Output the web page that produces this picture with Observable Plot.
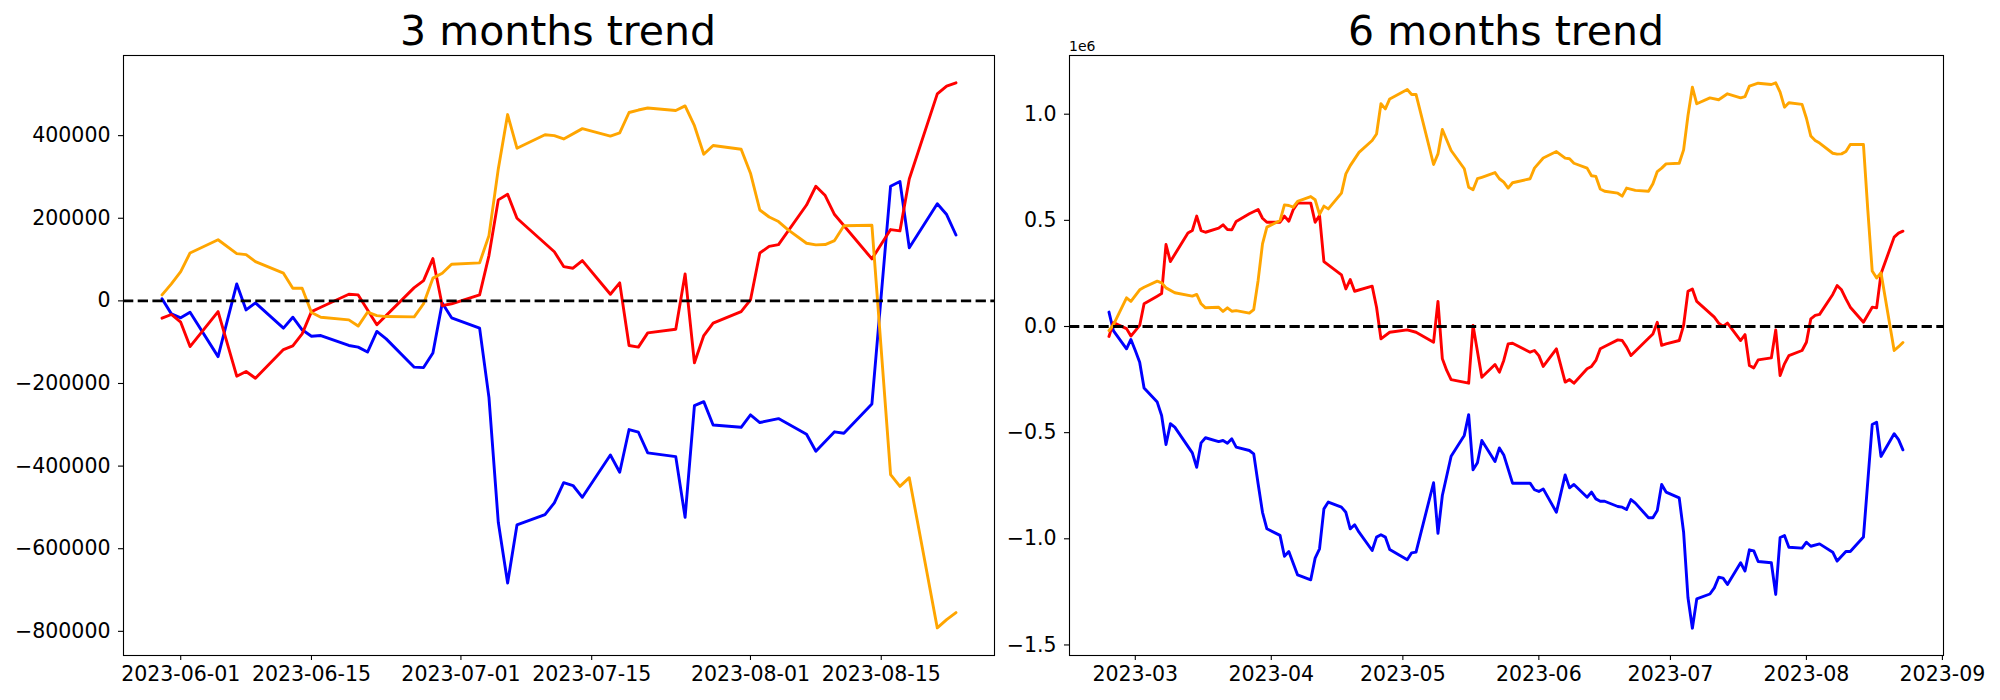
<!DOCTYPE html>
<html><head><meta charset="utf-8">
<script src="https://cdn.jsdelivr.net/npm/d3@7"></script>
<script src="https://cdn.jsdelivr.net/npm/@observablehq/plot@0.6"></script>
<style>
body{margin:0;background:#fff;font-family:"DejaVu Sans",sans-serif;}
#fig{position:relative;width:2000px;height:700px;overflow:hidden;background:#fff;}
.title{position:absolute;z-index:2;font-size:41px;line-height:41px;white-space:nowrap;transform:translateX(-50%);color:#000;}
.panel{position:absolute;top:35px;z-index:1;}
.offset{position:absolute;z-index:2;font-size:14px;line-height:14px;color:#000;white-space:nowrap;}
</style></head><body>
<div id="fig">
  <div id="left" class="panel" style="left:0px"></div>
  <div id="right" class="panel" style="left:1000px"></div>
  <div class="title" id="t3" style="left:558px;top:11px"></div>
  <div class="title" id="t6" style="left:1506px;top:11px"></div>
  <div class="offset" style="left:1069px;top:39px">1e6</div>
</div>
<script>
// ---------- 3 months panel ----------
const titles = ["3 months trend", "6 months trend"];
const colors = ["blue", "red", "orange"];

const blue3Dates = ["2023-05-30","2023-05-31","2023-06-01","2023-06-02","2023-06-05","2023-06-07","2023-06-08","2023-06-09",
"2023-06-12","2023-06-13","2023-06-14","2023-06-15","2023-06-16","2023-06-19","2023-06-20","2023-06-21","2023-06-22","2023-06-23",
"2023-06-26","2023-06-27","2023-06-28","2023-06-29","2023-06-30","2023-07-03","2023-07-04","2023-07-05","2023-07-06","2023-07-07",
"2023-07-10","2023-07-11","2023-07-12","2023-07-13","2023-07-14","2023-07-17","2023-07-18","2023-07-19","2023-07-20","2023-07-21",
"2023-07-24","2023-07-25","2023-07-26","2023-07-27","2023-07-28","2023-07-31","2023-08-01","2023-08-02","2023-08-04",
"2023-08-07","2023-08-08","2023-08-10","2023-08-11","2023-08-14","2023-08-16","2023-08-17","2023-08-18",
"2023-08-21","2023-08-22","2023-08-23"];
const blue3Values = [5000,-31500,-41000,-27500,-135000,41000,-22000,-5000,
-66000,-39500,-70000,-85500,-84000,-108000,-112000,-124000,-74000,-92000,
-160500,-161500,-126000,-5000,-41000,-66000,-233500,-536000,-683000,-542500,
-517500,-489000,-440000,-447000,-475500,-373000,-415000,-311500,-318000,-368000,
-377000,-524000,-253500,-244000,-300500,-306000,-276000,-294500,-285000,
-323000,-364000,-317000,-320500,-249500,277500,289000,128500,
235000,209000,159500];

const red3Dates = ["2023-05-30","2023-05-31","2023-06-01","2023-06-02","2023-06-05","2023-06-07","2023-06-08","2023-06-09",
"2023-06-12","2023-06-13","2023-06-14","2023-06-15","2023-06-16","2023-06-19","2023-06-20","2023-06-22",
"2023-06-26","2023-06-27","2023-06-28","2023-06-29","2023-06-30","2023-07-03","2023-07-04","2023-07-05","2023-07-06","2023-07-07",
"2023-07-11","2023-07-12","2023-07-13","2023-07-14","2023-07-17","2023-07-18","2023-07-19","2023-07-20","2023-07-21",
"2023-07-24","2023-07-25","2023-07-26","2023-07-27","2023-07-28","2023-07-31","2023-08-01","2023-08-02","2023-08-03","2023-08-04",
"2023-08-07","2023-08-08","2023-08-09","2023-08-10","2023-08-14","2023-08-16","2023-08-17","2023-08-18",
"2023-08-21","2023-08-22","2023-08-23"];
const red3Values = [-42000,-33000,-51700,-110600,-26000,-182400,-171000,-187200,
-117800,-109000,-80000,-26000,-15400,16000,14400,-58000,
32000,49000,102400,-11400,-7000,14400,109600,244500,258000,200000,
119000,83000,79000,97600,16000,43500,-108000,-112000,-77400,
-68700,65300,-150000,-84000,-54000,-26000,2300,116000,132000,136000,
232000,277500,255000,209000,101600,172600,169400,295000,
501000,520000,528000];

const orange3Dates = ["2023-05-30","2023-05-31","2023-06-01","2023-06-02","2023-06-05","2023-06-07","2023-06-08","2023-06-09",
"2023-06-12","2023-06-13","2023-06-14","2023-06-15","2023-06-16","2023-06-19","2023-06-20","2023-06-21","2023-06-22","2023-06-23",
"2023-06-26","2023-06-27","2023-06-28","2023-06-29","2023-06-30","2023-07-03","2023-07-04","2023-07-05","2023-07-06","2023-07-07",
"2023-07-10","2023-07-11","2023-07-12","2023-07-14","2023-07-17","2023-07-18","2023-07-19","2023-07-20","2023-07-21",
"2023-07-24","2023-07-25","2023-07-26","2023-07-27","2023-07-28","2023-07-31","2023-08-01","2023-08-02","2023-08-03","2023-08-04","2023-08-05",
"2023-08-07","2023-08-08","2023-08-09","2023-08-10","2023-08-11","2023-08-14","2023-08-16","2023-08-17","2023-08-18",
"2023-08-21","2023-08-22","2023-08-23"];
const orange3Values = [14400,41000,71000,116000,148000,114500,112000,95000,
67000,30600,30600,-28000,-39600,-46000,-61000,-27500,-35600,-38000,
-38700,-7000,55000,67000,88700,92000,158000,319500,451000,369500,
402000,400000,392000,417000,399000,406600,456000,462000,467000,
461000,472000,424000,355000,376000,367000,309000,220000,203000,192000,172600,
139500,135500,136300,146000,182000,183000,-420500,-449000,-428000,
-791700,-771600,-754600];

const ticks3X = ["2023-06-01","2023-06-15","2023-07-01","2023-07-15","2023-08-01","2023-08-15"];
const ticks3Y = [-800000,-600000,-400000,-200000,0,200000,400000];

// ---------- 6 months panel ----------
const blue6Dates = ["2023-02-23","2023-02-24","2023-02-27","2023-02-28","2023-03-01","2023-03-02","2023-03-03",
"2023-03-06","2023-03-07","2023-03-08","2023-03-09","2023-03-10","2023-03-14","2023-03-15","2023-03-16","2023-03-17",
"2023-03-20","2023-03-21","2023-03-22","2023-03-23","2023-03-24","2023-03-27","2023-03-28","2023-03-29","2023-03-30","2023-03-31",
"2023-04-03","2023-04-04","2023-04-05","2023-04-07","2023-04-10","2023-04-11","2023-04-12","2023-04-13","2023-04-14",
"2023-04-17","2023-04-18","2023-04-19","2023-04-20","2023-04-21","2023-04-24","2023-04-25","2023-04-26","2023-04-27","2023-04-28",
"2023-05-02","2023-05-03","2023-05-04","2023-05-08","2023-05-09","2023-05-10","2023-05-12",
"2023-05-15","2023-05-16","2023-05-17","2023-05-18","2023-05-19","2023-05-22","2023-05-23","2023-05-24","2023-05-26",
"2023-05-30","2023-05-31","2023-06-01","2023-06-02","2023-06-05","2023-06-07","2023-06-08","2023-06-09",
"2023-06-12","2023-06-13","2023-06-14","2023-06-15","2023-06-16","2023-06-19","2023-06-20","2023-06-21","2023-06-22","2023-06-23",
"2023-06-26","2023-06-27","2023-06-28","2023-06-29","2023-06-30","2023-07-03","2023-07-04","2023-07-05","2023-07-06","2023-07-07",
"2023-07-10","2023-07-11","2023-07-12","2023-07-13","2023-07-14","2023-07-17","2023-07-18","2023-07-19","2023-07-20","2023-07-21",
"2023-07-24","2023-07-25","2023-07-26","2023-07-27","2023-07-28","2023-07-31","2023-08-01","2023-08-02","2023-08-04",
"2023-08-07","2023-08-08","2023-08-10","2023-08-11","2023-08-14","2023-08-16","2023-08-17","2023-08-18",
"2023-08-21","2023-08-22","2023-08-23"];
const blue6Values = [68000,-19000,-105000,-61000,-113000,-168000,-290000,
-356000,-419000,-556000,-458000,-474000,-595000,-663000,-548000,-524000,
-542000,-537000,-550000,-529000,-568000,-584000,-600000,-741000,-875000,-953000,
-984000,-1082000,-1060000,-1170000,-1193000,-1091000,-1047000,-859000,-827000,
-851000,-875000,-953000,-934000,-969000,-1055000,-992000,-981000,-992000,-1050000,
-1099000,-1066000,-1063000,-736000,-974000,-796000,-611000,
-513000,-415000,-675000,-642000,-537000,-636000,-572000,-605000,-738000,
-738000,-769000,-777000,-765000,-875000,-699000,-760000,-744000,
-804000,-780000,-812000,-823000,-823000,-848000,-851000,-862000,-815000,-832000,
-901000,-901000,-867000,-744000,-780000,-807000,-969000,-1278000,-1421000,-1283000,
-1260000,-1231000,-1181000,-1185000,-1215000,-1113000,-1152000,-1052000,-1057000,-1107000,
-1113000,-1262000,-994000,-985000,-1040000,-1044000,-1016000,-1035000,-1024000,
-1063000,-1105000,-1060000,-1060000,-992000,-462000,-451000,-612000,
-505000,-533000,-581000];

const red6Dates = ["2023-02-23","2023-02-24","2023-02-27","2023-02-28","2023-03-02","2023-03-03",
"2023-03-06","2023-03-07","2023-03-08","2023-03-09","2023-03-13","2023-03-14","2023-03-15","2023-03-16","2023-03-17",
"2023-03-20","2023-03-21","2023-03-22","2023-03-23","2023-03-24","2023-03-27","2023-03-29","2023-03-30","2023-03-31",
"2023-04-03","2023-04-04","2023-04-05","2023-04-06","2023-04-07","2023-04-10","2023-04-11","2023-04-12","2023-04-13",
"2023-04-17","2023-04-18","2023-04-19","2023-04-20","2023-04-24","2023-04-25","2023-04-26","2023-04-28",
"2023-05-02","2023-05-04","2023-05-08","2023-05-09","2023-05-10","2023-05-11","2023-05-12",
"2023-05-16","2023-05-17","2023-05-19","2023-05-22","2023-05-23","2023-05-24","2023-05-25","2023-05-26",
"2023-05-30","2023-05-31","2023-06-01","2023-06-02","2023-06-05","2023-06-07","2023-06-08","2023-06-09",
"2023-06-12","2023-06-13","2023-06-14","2023-06-15","2023-06-16","2023-06-19","2023-06-20","2023-06-21","2023-06-22",
"2023-06-26","2023-06-27","2023-06-28","2023-06-29","2023-06-30","2023-07-03","2023-07-04","2023-07-05","2023-07-06","2023-07-07",
"2023-07-11","2023-07-12","2023-07-13","2023-07-14","2023-07-17","2023-07-18","2023-07-19","2023-07-20","2023-07-21",
"2023-07-24","2023-07-25","2023-07-26","2023-07-27","2023-07-28","2023-07-31","2023-08-01","2023-08-02","2023-08-03","2023-08-04",
"2023-08-07","2023-08-08","2023-08-09","2023-08-10","2023-08-11","2023-08-14","2023-08-16","2023-08-17","2023-08-18",
"2023-08-21","2023-08-22","2023-08-23"];
const red6Values = [-47000,18000,-10000,-45000,5000,107000,
143000,155000,386000,306000,440000,452000,520000,452000,444000,
463000,479000,457000,455000,495000,531000,551000,510000,491000,
491000,520000,496000,550000,581000,581000,491000,523000,306000,
243000,177000,221000,166000,190000,91000,-58000,-27000,
-16000,-27000,-74000,118000,-152000,-207000,-250000,
-267000,5000,-239000,-179000,-215000,-160000,-82000,-79000,
-121000,-113000,-137000,-188000,-105000,-262000,-250000,-267000,
-199000,-188000,-160000,-105000,-94000,-63000,-66000,-97000,-137000,
-55000,-35000,20000,-89000,-82000,-66000,5000,166000,177000,118000,
44000,16000,0,16000,-66000,-38000,-184000,-195000,-157000,
-148000,-16000,-231000,-176000,-137000,-113000,-74000,36000,52000,57000,
151000,193000,173000,130000,91000,20000,91000,88000,248000,
421000,440000,449000];

const orange6Dates = ["2023-02-23","2023-02-24","2023-02-27","2023-02-28","2023-03-02","2023-03-03",
"2023-03-06","2023-03-07","2023-03-08","2023-03-10","2023-03-14","2023-03-15","2023-03-16","2023-03-17",
"2023-03-20","2023-03-21","2023-03-22","2023-03-23","2023-03-24","2023-03-27","2023-03-28","2023-03-29","2023-03-30","2023-03-31",
"2023-04-03","2023-04-04","2023-04-05","2023-04-06","2023-04-07","2023-04-10","2023-04-11","2023-04-12","2023-04-13","2023-04-14",
"2023-04-17","2023-04-18","2023-04-19","2023-04-21","2023-04-24","2023-04-25","2023-04-26","2023-04-27","2023-04-28",
"2023-05-02","2023-05-03","2023-05-04","2023-05-08","2023-05-09","2023-05-10","2023-05-12",
"2023-05-15","2023-05-16","2023-05-17","2023-05-18","2023-05-19","2023-05-22","2023-05-23","2023-05-24","2023-05-25","2023-05-26",
"2023-05-30","2023-05-31","2023-06-02","2023-06-05","2023-06-07","2023-06-08","2023-06-09",
"2023-06-12","2023-06-13","2023-06-14","2023-06-15","2023-06-16","2023-06-19","2023-06-20","2023-06-21","2023-06-23",
"2023-06-26","2023-06-27","2023-06-28","2023-06-29","2023-06-30","2023-07-03","2023-07-04","2023-07-05","2023-07-06","2023-07-07",
"2023-07-10","2023-07-12","2023-07-14","2023-07-17","2023-07-18","2023-07-19","2023-07-21",
"2023-07-24","2023-07-25","2023-07-26","2023-07-27","2023-07-28","2023-07-31","2023-08-01","2023-08-02","2023-08-03","2023-08-04",
"2023-08-07","2023-08-08","2023-08-09","2023-08-10","2023-08-11","2023-08-14","2023-08-15","2023-08-16","2023-08-17","2023-08-18",
"2023-08-21","2023-08-22","2023-08-23"];
const orange6Values = [-19000,8000,135000,118000,173000,185000,
213500,206000,182000,159000,143000,151000,107000,88000,
91000,71000,88000,72000,75000,63000,80000,217000,389000,468000,
499000,573000,570000,562000,589000,612000,597000,528000,567000,554000,
628000,719000,758000,820000,876000,907000,1049000,1025000,1072000,
1116000,1093000,1093000,763000,813000,928000,829000,
743000,656000,644000,696000,703000,725000,696000,680000,652000,677000,
696000,746000,794000,824000,793000,790000,769000,
746000,710000,707000,648000,637000,628000,614000,652000,641000,
637000,672000,730000,746000,766000,769000,832000,994000,1127000,1049000,
1077000,1068000,1096000,1077000,1083000,1132000,1146000,
1140000,1148000,1104000,1033000,1054000,1046000,981000,897000,876000,864000,
816000,812000,813000,824000,857000,857000,547000,261000,228000,253000,
-113000,-95000,-75000];

const ticks6X = ["2023-03-01","2023-04-01","2023-05-01","2023-06-01","2023-07-01","2023-08-01","2023-09-01"];
const ticks6Y = [-1500000,-1000000,-500000,0,500000,1000000];

// ---------- drawing ----------
document.getElementById("t3").textContent = titles[0];
document.getElementById("t6").textContent = titles[1];

const rows = (dates, values) => dates.map((d, i) => ({date: new Date(d), value: values[i]}));

function panel(o) {
  const lineW = 2.9;
  return Plot.plot({
    width: 1000, height: 665,
    marginTop: 20, marginBottom: 45, marginLeft: o.marginLeft, marginRight: o.marginRight,
    style: {fontFamily: "'DejaVu Sans', sans-serif", fontSize: "20.5px", color: "black", background: "transparent", overflow: "visible"},
    x: {type: "utc", domain: o.xDomain.map(d => new Date(d))},
    y: {domain: o.yDomain},
    marks: [
      ...o.series.map(s => Plot.line(rows(s.dates, s.values), {x: "date", y: "value", stroke: s.color, strokeWidth: lineW})),
      Plot.ruleY([0], {stroke: "black", strokeWidth: lineW, strokeDasharray: "10.3,4.4"}),
      Plot.axisX(o.xTicks.map(d => new Date(d)), {tickFormat: o.xFormat, tickSize: 5, tickPadding: 6, strokeWidth: 1.1, label: null}),
      Plot.axisY(o.yTicks, {tickFormat: o.yFormat, tickSize: 5, tickPadding: 8, strokeWidth: 1.1, label: null}),
      Plot.frame({stroke: "black", strokeWidth: 1.1})
    ]
  });
}

document.getElementById("left").append(panel({
  marginLeft: 123, marginRight: 6,
  xDomain: ["2023-05-25T21:00Z", "2023-08-27T03:00Z"],
  yDomain: [-858500, 594000],
  xTicks: ticks3X, xFormat: d3.utcFormat("%Y-%m-%d"),
  yTicks: ticks3Y, yFormat: d3.format("d"),
  series: [
    {dates: blue3Dates, values: blue3Values, color: colors[0]},
    {dates: red3Dates, values: red3Values, color: colors[1]},
    {dates: orange3Dates, values: orange3Values, color: colors[2]}
  ]
}));

document.getElementById("right").append(panel({
  marginLeft: 69, marginRight: 57,
  xDomain: ["2023-02-14T00:00Z", "2023-09-01T06:00Z"],
  yDomain: [-1549700, 1276500],
  xTicks: ticks6X, xFormat: d3.utcFormat("%Y-%m"),
  yTicks: ticks6Y, yFormat: d => d3.format(".1f")(d / 1e6),
  series: [
    {dates: blue6Dates, values: blue6Values, color: colors[0]},
    {dates: red6Dates, values: red6Values, color: colors[1]},
    {dates: orange6Dates, values: orange6Values, color: colors[2]}
  ]
}));
</script>
</body></html>
